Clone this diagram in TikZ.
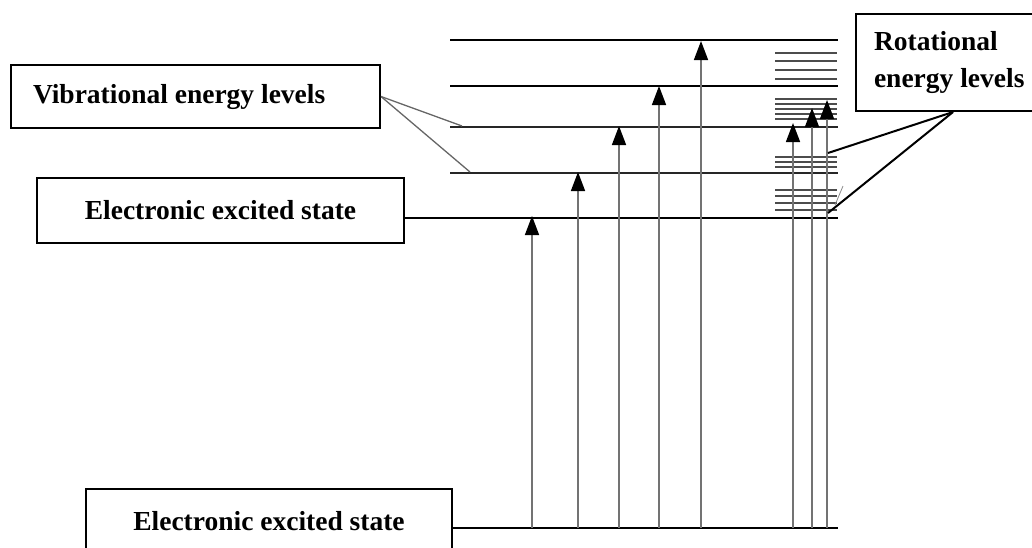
\documentclass[tikz,border=0pt]{standalone}
\usepackage{fontspec}
\setmainfont{Liberation Serif}
\usetikzlibrary{arrows.meta}

% narrow interword spacing for the label texts
\newcommand\tightwords{\spaceskip=0.25em\relax}

\tikzset{
  labelbox/.style={draw=black, line width=2pt, fill=white, inner sep=0pt,
    font=\fontsize{27.5}{37}\selectfont\bfseries,
    execute at begin node=\tightwords},
  thicklevel/.style={line width=2.6pt, black},
  thinlevel/.style={line width=1.5pt, black!85},
  rotlevel/.style={line width=1.6pt, black!70},
  transition/.style={line width=1.5pt, black!55,
    -{Triangle[width=14pt,length=19pt,color=black]}},
  vibpointer/.style={line width=1.3pt, black!60},
  rotpointer/.style={line width=2pt, black},
}

\begin{document}
\begin{tikzpicture}[x=1pt,y=-1pt]
\useasboundingbox (0,0) rectangle (1032,547);

% ---- label boxes ----
\node[labelbox, minimum width=369pt, minimum height=63pt, text width=325pt,
      align=left, inner xsep=22pt] (vib) at (195.5,96.5)
  {Vibrational energy levels};
\node[labelbox, minimum width=367pt, minimum height=65pt] (exc) at (220.5,210.5)
  {Electronic excited state};
\node[labelbox, minimum width=366pt, minimum height=65pt] (gnd) at (269,521.5)
  {Electronic excited state};
\node[labelbox, minimum width=190pt, minimum height=97pt, text width=160pt,
      align=left, inner xsep=18pt] (rot) at (954,62.5)
  {Rotational\\energy levels};

% ---- level end points ----
\coordinate (l1a) at (450,40);  \coordinate (l1b) at (838,40);
\coordinate (l2a) at (450,86);  \coordinate (l2b) at (838,86);
\coordinate (l3a) at (450,127); \coordinate (l3b) at (838,127);
\coordinate (l4a) at (450,173); \coordinate (l4b) at (838,173);
\coordinate (l5a) at (exc.east |- 0,218); \coordinate (l5b) at (838,218);
\coordinate (l0a) at (gnd.east |- 0,528); \coordinate (l0b) at (838,528);

% ---- electronic and vibrational levels ----
\draw[thicklevel] (l1a) -- (l1b);
\draw[thicklevel] (l2a) -- (l2b);
\draw[thinlevel]  (l3a) -- (l3b);
\draw[thinlevel]  (l4a) -- (l4b);
\draw[thicklevel] (l5a) -- (l5b);
\draw[thicklevel] (l0a) -- (l0b);

% ---- rotational sub-levels ----
\foreach \y in {53,61,70,79, 99,104,109,114,119, 157,162,167, 190,196,203,210}
  \draw[rotlevel] (775,\y) -- (837,\y);

% ---- transitions from the lower state ----
\foreach \x/\t [count=\i] in {532/216, 578/172, 619/126, 659/86, 701/41,
                             793/123, 812/108, 827/100} {
  \coordinate (s\i) at (\x,528);
  \coordinate (e\i) at (\x,\t);
  \draw[transition] (s\i) -- (e\i);
}

% ---- pointers ----
\coordinate (v1) at (462,126);
\coordinate (v2) at (470,172);
\draw[vibpointer] (vib.east) -- (v1);
\draw[vibpointer] (vib.east) -- (v2);

\coordinate (rp) at (953,112);
\coordinate (r1) at (828,153);
\coordinate (r2) at (828,213);
\draw[rotpointer] (rp) -- (r1);
\draw[rotpointer] (rp) -- (r2);
\coordinate (rt1) at (843,186);
\coordinate (rt2) at (835,205);
\draw[line width=0.8pt, black!45] (rt1) -- (rt2);
\end{tikzpicture}
\end{document}
